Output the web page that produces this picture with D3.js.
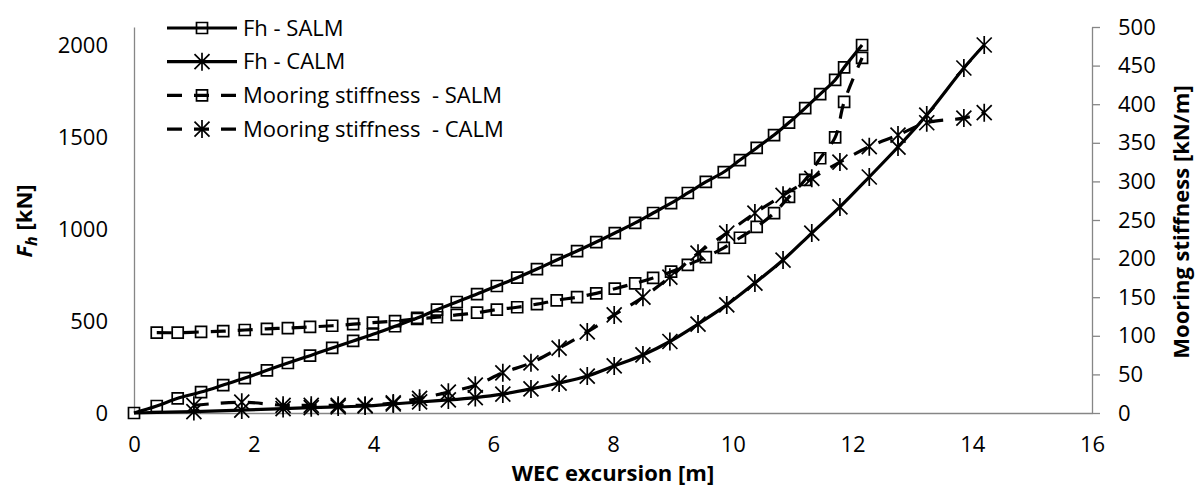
<!DOCTYPE html>
<html>
<head>
<meta charset="utf-8">
<script src="https://cdn.jsdelivr.net/npm/d3@7"></script>
<style>
  html, body { margin: 0; padding: 0; background: #fff; }
  svg { display: block; font-family: 'Open Sans', sans-serif; }
</style>
</head>
<body>
<div id="chart"></div>
<script>
// Fh - SALM (left axis, kN)
const xFhSalm = [0, 0.38, 0.73, 1.12, 1.49, 1.85, 2.22, 2.57, 2.94, 3.31, 3.66, 3.99, 4.36, 4.73, 5.06, 5.39, 5.73, 6.06, 6.40, 6.73, 7.06, 7.40, 7.72, 8.03, 8.37, 8.67, 8.97, 9.25, 9.55, 9.85, 10.12, 10.40, 10.69, 10.94, 11.21, 11.46, 11.71, 11.86, 12.16];
const fhSalm = [0, 38, 80, 114, 152, 190, 232, 272, 312, 354, 392, 428, 472, 517, 562, 604, 647, 691, 736, 783, 832, 881, 930, 979, 1034, 1088, 1142, 1197, 1257, 1311, 1376, 1442, 1512, 1580, 1659, 1735, 1812, 1880, 2002];

// Fh - CALM (left axis, kN)
const xFhCalm = [0, 1.00, 1.80, 2.49, 2.96, 3.41, 3.86, 4.33, 4.77, 5.25, 5.70, 6.16, 6.63, 7.10, 7.57, 8.02, 8.50, 8.95, 9.42, 9.90, 10.37, 10.84, 11.32, 11.79, 12.28, 12.76, 13.24, 13.86, 14.20];
const fhCalm = [0, 8, 16, 24, 29, 33, 38, 49, 60, 71, 84, 103, 131, 163, 201, 256, 316, 389, 484, 588, 707, 832, 979, 1121, 1284, 1447, 1621, 1877, 2002];

// Mooring stiffness - SALM (right axis, kN/m)
const xKSalm = [0.38, 0.73, 1.12, 1.49, 1.85, 2.22, 2.57, 2.94, 3.31, 3.66, 3.99, 4.36, 4.73, 5.06, 5.39, 5.73, 6.06, 6.40, 6.73, 7.06, 7.40, 7.72, 8.03, 8.37, 8.67, 8.97, 9.25, 9.55, 9.85, 10.12, 10.40, 10.69, 10.94, 11.21, 11.46, 11.71, 11.86, 12.16];
const kSalm = [104, 104, 105, 106, 107.5, 109, 110, 111.5, 113, 115, 117, 119, 122, 124, 127, 130, 134, 137, 141, 146, 150, 155, 161, 168, 175, 183, 192, 202, 214, 227, 241, 259, 280, 302, 330, 357, 403, 460];

// Mooring stiffness - CALM (right axis, kN/m)
const xKCalm = [1.00, 1.80, 2.49, 2.96, 3.41, 3.86, 4.33, 4.77, 5.25, 5.70, 6.16, 6.63, 7.10, 7.57, 8.02, 8.50, 8.95, 9.42, 9.90, 10.37, 10.84, 11.32, 11.79, 12.28, 12.76, 13.24, 13.86, 14.20];
const kCalm = [10, 14, 10, 10, 10, 10, 13, 19, 27, 36, 52, 65, 84, 105, 127, 150, 176, 207, 233, 259, 282, 304, 325, 345, 360, 376, 382, 389];

const xTicks = [0, 2, 4, 6, 8, 10, 12, 14, 16];
const leftTicks = [0, 500, 1000, 1500, 2000];
const rightTicks = [0, 50, 100, 150, 200, 250, 300, 350, 400, 450, 500];

const seriesNames = ['Fh - SALM', 'Fh - CALM', 'Mooring stiffness  - SALM', 'Mooring stiffness  - CALM'];

const W = 1195, H = 490;
const plot = { left: 134, right: 1092, top: 27, bottom: 413 };
const axisGrey = '#868686';

const svg = d3.select('#chart').append('svg')
  .attr('width', W)
  .attr('height', H);

const x = d3.scaleLinear().domain([0, 16]).range([plot.left, plot.right]);
const yL = d3.scaleLinear().domain([0, 2100]).range([plot.bottom, plot.top]);
const yR = d3.scaleLinear().domain([0, 500]).range([plot.bottom, plot.top]);

// axes
const gx = svg.append('g')
  .attr('transform', `translate(0,${plot.bottom})`)
  .call(d3.axisBottom(x).tickValues(xTicks).tickSize(0).tickPadding(23).tickFormat(d3.format('d')));
gx.select('.domain').attr('stroke', axisGrey).attr('stroke-width', 1.3);

const gl = svg.append('g')
  .attr('transform', `translate(${plot.left},0)`)
  .call(d3.axisLeft(yL).tickValues(leftTicks).tickSize(0).tickPadding(26).tickFormat(d3.format('d')));
gl.select('.domain').attr('stroke', axisGrey).attr('stroke-width', 1.3);

const gr = svg.append('g')
  .attr('transform', `translate(${plot.right},0)`)
  .call(d3.axisRight(yR).tickValues(rightTicks).tickSize(8).tickSizeOuter(0).tickPadding(18).tickFormat(d3.format('d')));
gr.select('.domain').attr('stroke', axisGrey).attr('stroke-width', 1.3);
gr.selectAll('.tick line').attr('stroke', axisGrey).attr('stroke-width', 1.3);

svg.selectAll('.tick text')
  .attr('fill', '#000')
  .attr('font-size', '22px')
  .attr('font-family', "'Open Sans', sans-serif");

// axis titles
svg.append('text')
  .attr('x', (plot.left + plot.right) / 2)
  .attr('y', 481)
  .attr('text-anchor', 'middle')
  .attr('font-size', '22px')
  .attr('font-weight', 'bold')
  .text('WEC excursion [m]');

const lt = svg.append('text')
  .attr('transform', `translate(32,221) rotate(-90)`)
  .attr('text-anchor', 'middle')
  .attr('font-size', '22px')
  .attr('font-weight', 'bold');
lt.append('tspan').attr('font-style', 'italic').text('F');
lt.append('tspan').attr('font-style', 'italic').attr('font-size', '16px').attr('dy', 5).text('h');
lt.append('tspan').attr('dy', -5).text(' [kN]');

svg.append('text')
  .attr('transform', `translate(1189,222) rotate(-90)`)
  .attr('text-anchor', 'middle')
  .attr('font-size', '22px')
  .attr('font-weight', 'bold')
  .text('Mooring stiffness [kN/m]');

// markers
const squarePath = 'M-5.5,-5.5H5.5V5.5H-5.5Z';
const starPath = 'M-7.5,-7.5L7.5,7.5M-7.5,7.5L7.5,-7.5M0,-9L0,9';

const series = [
  { name: seriesNames[0], xs: xFhSalm, ys: fhSalm, scale: yL, dash: null, marker: squarePath },
  { name: seriesNames[1], xs: xFhCalm, ys: fhCalm, scale: yL, dash: null, marker: starPath, skipFirst: true },
  { name: seriesNames[2], xs: xKSalm, ys: kSalm, scale: yR, dash: '15,12', marker: squarePath },
  { name: seriesNames[3], xs: xKCalm, ys: kCalm, scale: yR, dash: '15,12', marker: starPath }
];

series.forEach(s => {
  const pts = s.xs.map((v, i) => [v, s.ys[i]]);
  const line = d3.line()
    .x(d => x(d[0]))
    .y(d => s.scale(d[1]))
    .curve(d3.curveCatmullRom.alpha(0.5));

  svg.append('path')
    .datum(pts)
    .attr('d', line)
    .attr('fill', 'none')
    .attr('stroke', '#000')
    .attr('stroke-width', 3.2)
    .attr('stroke-dasharray', s.dash);

  svg.append('g')
    .selectAll('path')
    .data(s.skipFirst ? pts.slice(1) : pts)
    .join('path')
    .attr('transform', d => `translate(${x(d[0])},${s.scale(d[1])})`)
    .attr('d', s.marker)
    .attr('fill', 'none')
    .attr('stroke', '#000')
    .attr('stroke-width', 1.7);
});

// legend
const legend = svg.append('g');
series.forEach((s, i) => {
  const ly = 28 + i * 33.7;
  legend.append('line')
    .attr('x1', 167).attr('x2', 237)
    .attr('y1', ly).attr('y2', ly)
    .attr('stroke', '#000')
    .attr('stroke-width', 3.2)
    .attr('stroke-dasharray', s.dash);
  legend.append('path')
    .attr('transform', `translate(202,${ly})`)
    .attr('d', s.marker)
    .attr('fill', 'none')
    .attr('stroke', '#000')
    .attr('stroke-width', 1.7);
  legend.append('text')
    .attr('x', 243)
    .attr('y', ly)
    .attr('dy', '0.35em')
    .attr('font-size', '22px')
    .attr('xml:space', 'preserve')
    .style('white-space', 'pre')
    .text(s.name);
});
</script>
</body>
</html>
